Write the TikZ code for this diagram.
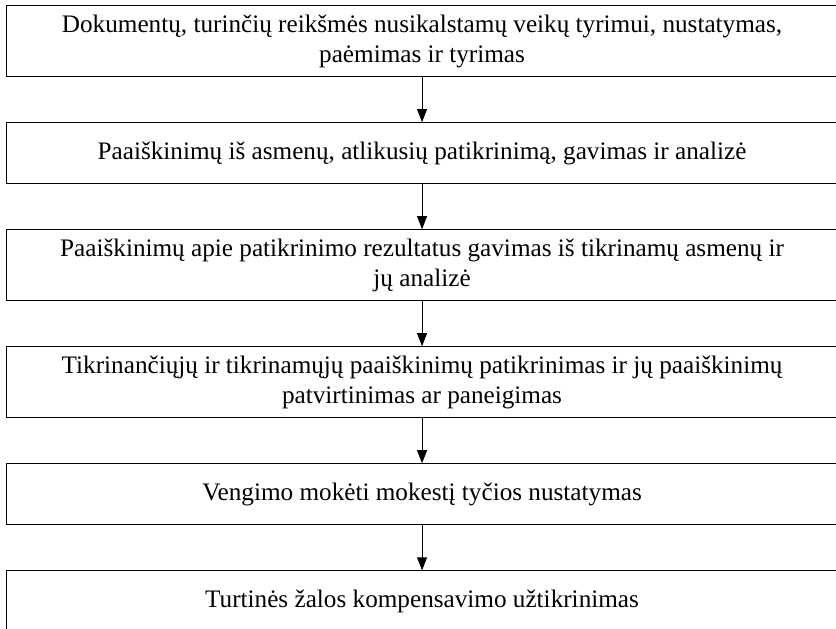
\documentclass[tikz,border=0pt]{standalone}
\usepackage{fontspec}
\setmainfont{Liberation Serif}
\usetikzlibrary{positioning,arrows.meta}
\begin{document}
\begin{tikzpicture}[x=1pt,y=1pt,
    stepbox/.style={draw, line width=1.1pt, minimum width=832pt, minimum height=61pt,
      inner xsep=10pt, inner ysep=9pt, align=center, font=\fontsize{25.2}{30}\selectfont},
    flowarrow/.style={-{Triangle[length=13pt,width=10pt]}, line width=0.9pt},
    node distance=45pt]
  \useasboundingbox (0,0) rectangle (836,-629);
  \node[stepbox, anchor=north west] (Documents) at (5.5,-5)
    {Dokumentų, turinčių reikšmės nusikalstamų veikų tyrimui, nustatymas,\\ paėmimas ir tyrimas};
  \node[stepbox, below=of Documents] (Explanations)
    {Paaiškinimų iš asmenų, atlikusių patikrinimą, gavimas ir analizė};
  \node[stepbox, below=of Explanations] (Results)
    {Paaiškinimų apie patikrinimo rezultatus gavimas iš tikrinamų asmenų ir\\ jų analizė};
  \node[stepbox, below=of Results] (Verification)
    {Tikrinančiųjų ir tikrinamųjų paaiškinimų patikrinimas ir jų paaiškinimų\\ patvirtinimas ar paneigimas};
  \node[stepbox, below=of Verification] (Intent)
    {Vengimo mokėti mokestį tyčios nustatymas};
  \node[stepbox, below=of Intent] (Compensation)
    {Turtinės žalos kompensavimo užtikrinimas};
  % arrows between the steps
  \foreach \from/\to in {Documents/Explanations, Explanations/Results, Results/Verification,
      Verification/Intent, Intent/Compensation}
    \draw[flowarrow] (\from) -- (\to);
\end{tikzpicture}
\end{document}
